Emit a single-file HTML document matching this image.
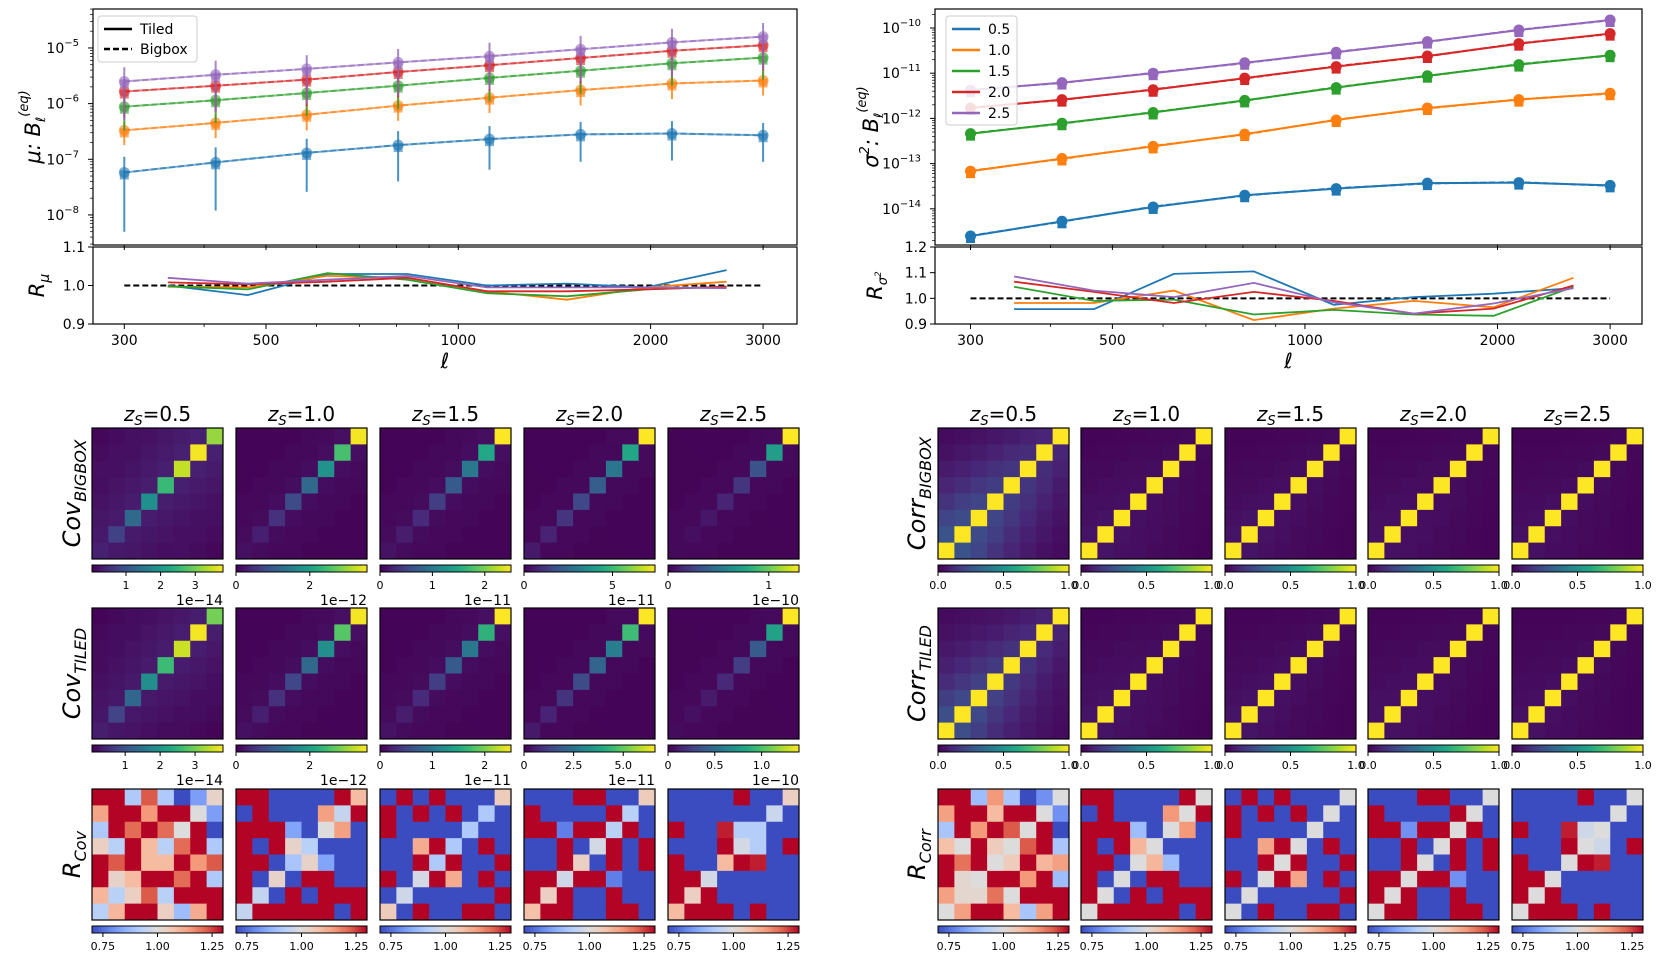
<!DOCTYPE html>
<html><head><meta charset="utf-8">
<style>
html,body{margin:0;padding:0;background:#fff;}
svg{display:block;}
text{font-family:"DejaVu Sans","Liberation Sans",sans-serif;fill:#000;}
</style></head>
<body>
<svg id="fig" width="1661" height="962" viewBox="0 0 1661 962" xmlns="http://www.w3.org/2000/svg"></svg>
<script>
// ---------- DATA ----------
const ellPoints = [300, 417, 579, 805, 1119, 1554, 2160, 3000];
const ellRatio = [351, 468, 624, 832, 1109, 1479, 1972, 2630];
const zLabels = ["0.5", "1.0", "1.5", "2.0", "2.5"];
const seriesColors = ["#1f77b4", "#ff7f0e", "#2ca02c", "#d62728", "#9467bd"];

const muZ05 = [5.8e-8, 8.8e-8, 1.3e-7, 1.8e-7, 2.3e-7, 2.8e-7, 2.9e-7, 2.7e-7];
const muZ10 = [3.3e-7, 4.5e-7, 6.3e-7, 9.2e-7, 1.28e-6, 1.75e-6, 2.3e-6, 2.6e-6];
const muZ15 = [8.8e-7, 1.15e-6, 1.55e-6, 2.1e-6, 2.9e-6, 3.9e-6, 5.3e-6, 6.7e-6];
const muZ20 = [1.65e-6, 2.1e-6, 2.7e-6, 3.7e-6, 4.9e-6, 6.6e-6, 8.9e-6, 1.12e-5];
const muZ25 = [2.5e-6, 3.3e-6, 4.2e-6, 5.5e-6, 7.1e-6, 9.5e-6, 1.26e-5, 1.6e-5];
const muErrZ05 = [5.3e-8, 7.6e-8, 1.04e-7, 1.4e-7, 1.65e-7, 1.9e-7, 1.95e-7, 1.8e-7];
const muErrZ10 = [1.5e-7, 2.1e-7, 3.0e-7, 4.3e-7, 6.0e-7, 8.2e-7, 1.1e-6, 1.2e-6];
const muErrZ15 = [5.5e-7, 7.0e-7, 9.5e-7, 1.3e-6, 1.8e-6, 2.4e-6, 3.2e-6, 4.0e-6];
const muErrZ20 = [1.1e-6, 1.4e-6, 1.8e-6, 2.4e-6, 3.2e-6, 4.3e-6, 5.8e-6, 7.3e-6];
const muErrZ25 = [2.0e-6, 2.6e-6, 3.2e-6, 4.1e-6, 5.3e-6, 7.0e-6, 9.5e-6, 1.2e-5];

const ratioMuZ05 = [1.00, 0.975, 1.03, 1.03, 1.00, 1.005, 0.995, 1.04];
const ratioMuZ10 = [0.997, 0.995, 1.025, 1.02, 0.985, 0.963, 0.995, 1.01];
const ratioMuZ15 = [0.998, 0.99, 1.032, 1.015, 0.98, 0.972, 0.99, 0.997];
const ratioMuZ20 = [1.008, 1.003, 1.01, 1.02, 0.985, 0.985, 0.99, 0.997];
const ratioMuZ25 = [1.02, 1.005, 1.015, 1.025, 0.995, 0.995, 0.995, 0.993];

const varZ05 = [2.5e-15, 5.3e-15, 1.1e-14, 2.0e-14, 2.8e-14, 3.7e-14, 3.8e-14, 3.3e-14];
const varZ10 = [6.8e-14, 1.3e-13, 2.4e-13, 4.5e-13, 9.2e-13, 1.7e-12, 2.6e-12, 3.6e-12];
const varZ15 = [4.6e-13, 7.8e-13, 1.35e-12, 2.5e-12, 4.8e-12, 8.8e-12, 1.55e-11, 2.5e-11];
const varZ20 = [1.7e-12, 2.6e-12, 4.3e-12, 7.8e-12, 1.4e-11, 2.4e-11, 4.5e-11, 7.5e-11];
const varZ25 = [4.2e-12, 6.2e-12, 1.0e-11, 1.7e-11, 2.9e-11, 5.0e-11, 9.0e-11, 1.5e-10];

const ratioVarZ05 = [0.958, 0.958, 1.095, 1.105, 0.975, 1.005, 1.018, 1.04];
const ratioVarZ10 = [0.982, 0.982, 1.03, 0.915, 0.96, 0.99, 0.965, 1.08];
const ratioVarZ15 = [1.045, 0.99, 0.995, 0.937, 0.955, 0.937, 0.932, 1.045];
const ratioVarZ20 = [1.065, 1.025, 0.982, 1.025, 0.99, 0.94, 0.96, 1.05];
const ratioVarZ25 = [1.085, 1.03, 1.005, 1.06, 0.985, 0.94, 0.98, 1.04];

const covBigDiag = [
  [0.35, 0.75, 1.3, 1.9, 2.55, 3.45, 3.75, 3.2],
  [0.15, 0.3, 0.5, 0.8, 1.2, 1.8, 2.5, 3.5],
  [0.12, 0.2, 0.3, 0.45, 0.7, 1.0, 1.5, 2.5],
  [0.5, 0.7, 1.1, 1.6, 2.2, 2.9, 4.4, 7.4],
  [0.03, 0.05, 0.08, 0.13, 0.2, 0.33, 0.72, 1.3]];
const covTiledDiag = [
  [0.35, 0.8, 1.3, 1.9, 2.6, 3.5, 3.75, 3.0],
  [0.15, 0.3, 0.5, 0.75, 1.2, 1.75, 2.6, 3.5],
  [0.12, 0.2, 0.3, 0.45, 0.7, 1.0, 1.6, 2.5],
  [0.45, 0.65, 1.0, 1.5, 2.1, 2.8, 4.5, 6.6],
  [0.04, 0.06, 0.1, 0.16, 0.25, 0.4, 0.8, 1.4]];
const covOffFrac = [
  [0, 0.07, 0.06, 0.05, 0.04, 0.04, 0.03, 0.02],
  [0, 0.03, 0.02, 0.02, 0.01, 0.01, 0.01, 0.01],
  [0, 0.03, 0.02, 0.02, 0.01, 0.01, 0.01, 0.01],
  [0, 0.02, 0.02, 0.01, 0.01, 0.01, 0.01, 0.01],
  [0, 0.02, 0.02, 0.01, 0.01, 0.01, 0.01, 0.01]];
const corrOffBig = [
  [1, 0.28, 0.25, 0.2, 0.16, 0.13, 0.1, 0.08],
  [1, 0.06, 0.05, 0.05, 0.04, 0.04, 0.03, 0.03],
  [1, 0.06, 0.05, 0.04, 0.04, 0.03, 0.03, 0.03],
  [1, 0.05, 0.05, 0.04, 0.04, 0.03, 0.03, 0.03],
  [1, 0.05, 0.04, 0.04, 0.03, 0.03, 0.03, 0.03]];
const corrOffTiled = [
  [1, 0.26, 0.22, 0.17, 0.14, 0.12, 0.1, 0.08],
  [1, 0.06, 0.05, 0.05, 0.04, 0.04, 0.03, 0.03],
  [1, 0.06, 0.05, 0.04, 0.04, 0.03, 0.03, 0.03],
  [1, 0.05, 0.05, 0.04, 0.04, 0.03, 0.03, 0.03],
  [1, 0.05, 0.04, 0.04, 0.03, 0.03, 0.03, 0.03]];
const covVmax = [[3.8, 3.55, 2.5, 7.4, 1.3], [3.8, 3.55, 2.5, 6.6, 1.4]];
const covVmin = [[0.02, 0, 0, 0, 0], [0.05, 0, 0, 0, 0]];
const covTicks = [[["1",1],["2",2],["3",3]], [["0",0],["2",2]], [["0",0],["1",1],["2",2]], [["0",0],["5",5]], [["0",0],["1",1]]];
const covTicksTiled = [[["1",1],["2",2],["3",3]], [["0",0],["2",2]], [["0",0],["1",1],["2",2]], [["0",0],["2.5",2.5],["5.0",5]], [["0",0],["0.5",0.5],["1.0",1]]];
const covExp = ["1e\u221214", "1e\u221212", "1e\u221211", "1e\u221211", "1e\u221210"];

const rCov = [
 [[1.3,1.3,0.91,1.23,0.91,0.7,0.82,1.03],[1.13,1.3,1.3,1.15,1.3,1.3,1.0,0.82],[0.91,1.3,1.21,1.3,1.21,1.0,1.3,0.7],[1.04,0.93,1.3,1.09,0.93,1.21,1.3,0.91],[1.3,1.23,1.3,1.09,1.09,1.3,1.15,1.23],[1.3,1.03,1.09,1.3,1.3,1.21,1.3,0.91],[1.1,0.93,1.04,1.23,0.93,1.3,1.3,1.3],[0.93,1.1,1.3,1.3,1.04,0.88,1.12,1.3]],
 [[1.3,1.3,0.7,0.7,0.7,0.7,1.3,1.09],[0.7,1.3,0.7,0.7,0.7,1.14,0.95,1.3],[1.3,1.3,1.3,0.83,0.7,1.0,1.14,0.7],[1.3,0.7,1.3,1.03,0.93,0.7,0.7,0.7],[1.3,1.3,0.7,0.9,1.03,0.83,0.7,0.7],[1.3,0.7,1.03,0.7,1.3,1.3,0.7,0.7],[1.3,0.95,0.7,1.3,0.7,1.3,1.3,1.3],[0.95,1.3,1.3,1.3,1.3,1.3,0.7,1.3]],
 [[0.7,1.3,0.7,1.3,0.7,0.7,0.7,1.05],[1.3,0.7,1.3,0.7,1.3,0.7,0.91,0.7],[1.3,0.7,0.7,0.7,0.7,0.91,0.7,0.7],[0.7,0.7,1.12,1.3,0.91,0.7,1.3,0.7],[0.7,0.7,1.3,0.91,1.3,0.7,0.7,1.3],[1.3,0.7,0.98,1.3,1.12,0.7,1.3,0.7],[0.7,0.97,0.7,0.7,0.7,0.7,0.7,1.3],[1.05,0.7,1.3,0.7,0.7,1.3,1.3,0.7]],
 [[0.7,0.7,0.7,1.3,1.3,0.7,0.7,1.05],[1.3,0.7,0.7,0.7,0.7,1.3,0.93,0.7],[1.3,1.3,0.77,1.3,1.3,0.93,1.3,0.7],[0.7,0.7,1.3,0.7,0.98,1.3,0.7,1.3],[0.7,0.7,1.3,1.04,0.7,1.3,0.7,1.3],[1.3,1.3,0.97,1.3,1.3,0.77,0.7,0.7],[1.3,1.04,1.3,0.7,0.7,1.3,0.7,0.7],[1.08,1.3,1.3,0.7,0.7,1.3,1.3,0.7]],
 [[0.7,0.7,0.7,0.7,1.3,0.7,0.7,1.04],[0.7,0.7,0.7,0.7,0.7,0.7,0.96,0.7],[1.3,0.7,0.7,1.28,0.92,0.92,0.7,0.7],[0.7,0.7,0.7,1.3,0.98,0.92,0.7,1.3],[1.3,0.7,0.7,1.09,1.3,1.28,0.7,0.7],[1.3,1.3,0.98,0.7,0.7,0.7,0.7,0.7],[1.3,1.04,1.3,0.7,0.7,0.7,0.7,0.7],[1.09,1.3,1.3,1.3,0.7,1.3,0.7,0.7]]];
const rCorr = [
 [[1.3,1.3,0.88,1.15,0.9,0.7,0.8,1.0],[1.14,1.3,1.3,1.09,1.3,1.3,1.0,0.8],[0.9,1.3,1.15,1.3,1.23,1.0,1.3,0.7],[1.08,1.0,1.3,1.05,1.0,1.23,1.3,0.9],[1.3,1.2,1.3,1.0,1.05,1.3,1.1,1.14],[1.3,1.02,1.0,1.3,1.3,1.15,1.3,0.88],[1.14,1.02,1.02,1.2,1.0,1.3,1.3,1.3],[1.0,1.14,1.3,1.3,1.09,0.9,1.14,1.3]],
 [[1.3,1.3,0.7,0.7,0.7,0.7,1.3,1.0],[0.7,1.3,0.7,0.7,0.7,1.15,1.0,1.3],[1.3,1.3,1.3,0.88,0.7,1.0,1.15,0.7],[1.3,0.7,1.3,1.1,1.0,0.7,0.7,0.7],[1.3,1.3,0.7,1.0,1.1,0.88,0.7,0.7],[1.3,0.7,1.0,0.7,1.3,1.3,0.7,0.7],[1.3,1.0,0.7,1.3,0.7,1.3,1.3,1.3],[1.0,1.3,1.3,1.3,1.3,1.3,0.7,1.3]],
 [[0.7,1.3,0.7,1.3,0.7,0.7,0.7,1.0],[1.3,0.7,1.3,0.7,1.3,0.7,1.0,0.7],[1.3,0.7,0.7,0.7,0.7,1.0,0.7,0.7],[0.7,0.7,1.13,1.3,1.0,0.7,1.3,0.7],[0.7,0.7,1.3,1.0,1.3,0.7,0.7,1.3],[1.3,0.7,1.0,1.3,1.13,0.7,1.3,0.7],[0.7,1.0,0.7,0.7,0.7,0.7,0.7,1.3],[1.0,0.7,1.3,0.7,0.7,1.3,1.3,0.7]],
 [[0.7,0.7,0.7,1.3,1.3,0.7,0.7,1.0],[1.3,0.7,0.7,0.7,0.7,1.3,1.0,0.7],[1.3,1.3,0.8,1.3,1.3,1.0,1.3,0.7],[0.7,0.7,1.3,0.7,1.0,1.3,0.7,1.3],[0.7,0.7,1.3,1.0,0.7,1.3,0.7,1.3],[1.3,1.3,1.0,1.3,1.3,0.8,0.7,0.7],[1.3,1.0,1.3,0.7,0.7,1.3,0.7,0.7],[1.0,1.3,1.3,0.7,0.7,1.3,1.3,0.7]],
 [[0.7,0.7,0.7,0.7,1.3,0.7,0.7,1.0],[0.7,0.7,0.7,0.7,0.7,0.7,1.0,0.7],[1.3,0.7,0.7,1.28,0.97,1.0,0.7,0.7],[0.7,0.7,0.7,1.3,1.0,0.97,0.7,1.3],[1.3,0.7,0.7,1.0,1.3,1.28,0.7,0.7],[1.3,1.3,1.0,0.7,0.7,0.7,0.7,0.7],[1.3,1.0,1.3,0.7,0.7,0.7,0.7,0.7],[1.0,1.3,1.3,1.3,0.7,1.3,0.7,0.7]]];

// ---------- HELPERS ----------
const NS = "http://www.w3.org/2000/svg";
const svg = document.getElementById('fig');
function mk(tag, attrs, parent) {
  const e = document.createElementNS(NS, tag);
  for (const k in attrs) e.setAttribute(k, attrs[k]);
  (parent || svg).appendChild(e);
  return e;
}
function txt(x, y, s, size, anchor, parent, extra) {
  const t = mk('text', Object.assign({x: x, y: y, 'font-size': size, 'text-anchor': anchor || 'middle'}, extra || {}), parent);
  t.textContent = s;
  return t;
}
function lerpHex(stops, t) {
  t = Math.max(0, Math.min(1, t));
  for (let i = 1; i < stops.length; i++) {
    if (t <= stops[i][0]) {
      const a = stops[i - 1], b = stops[i];
      const f = (t - a[0]) / (b[0] - a[0]);
      const ca = a[1], cb = b[1];
      const c = [0, 1, 2].map(k => Math.round(parseInt(ca.substr(1 + 2 * k, 2), 16) * (1 - f) + parseInt(cb.substr(1 + 2 * k, 2), 16) * f));
      return 'rgb(' + c.join(',') + ')';
    }
  }
  return stops[stops.length - 1][1];
}
const viridis = [[0,'#440154'],[0.1,'#482475'],[0.2,'#414487'],[0.3,'#355f8d'],[0.4,'#2a788e'],[0.5,'#21918c'],[0.6,'#22a884'],[0.7,'#44bf70'],[0.8,'#7ad151'],[0.9,'#bddf26'],[1,'#fde725']];
const coolwarm = [[0,'#3b4cc0'],[0.125,'#6282ea'],[0.25,'#8db0fe'],[0.375,'#b8d0f9'],[0.5,'#dddcdc'],[0.625,'#f5c4ac'],[0.75,'#f49a7b'],[0.875,'#de604d'],[1,'#b40426']];

function logScale(d0, d1, p0, p1) { const a = Math.log10(d0), b = Math.log10(d1); return v => p0 + (Math.log10(v) - a) / (b - a) * (p1 - p0); }
function linScale(d0, d1, p0, p1) { return v => p0 + (v - d0) / (d1 - d0) * (p1 - p0); }
function sup(x, y, base, exp, parent, name) {
  const t = mk('text', {x: x, y: y, 'font-size': 14, 'text-anchor': 'end'}, parent);
  
  
  const s1 = mk('tspan', {}, t); s1.textContent = base;
  const s2 = mk('tspan', {dy: -7, 'font-size': 10}, t); s2.textContent = exp;
}
function polyline(xs, ys, sx, sy, attrs, parent) {
  const pts = xs.map((x, i) => sx(x).toFixed(1) + ',' + sy(ys[i]).toFixed(1)).join(' ');
  return mk('polyline', Object.assign({points: pts, fill: 'none'}, attrs), parent);
}
function xAxisTicks(g, sx, yb, labels) {
  const minors = [400, 600, 700, 800, 900];
  [300, 500, 1000, 2000, 3000].forEach(v => {
    mk('line', {x1: sx(v), x2: sx(v), y1: yb, y2: yb + 5, stroke: '#000', 'stroke-width': 1}, g);
    if (labels) { const t = txt(sx(v), yb + 21, String(v), 14, 'middle', g);   }
  });
  minors.forEach(v => mk('line', {x1: sx(v), x2: sx(v), y1: yb, y2: yb + 3, stroke: '#000', 'stroke-width': 0.8}, g));
}
function yLogTicks(g, sy, x0, e0, e1, lo, hi) {
  for (let e = e0; e <= e1; e++) {
    for (let m = 1; m < 10; m++) {
      const v = m * Math.pow(10, e);
      if (v < lo || v > hi) continue;
      const y = sy(v);
      mk('line', {x1: x0 - (m === 1 ? 5 : 3), x2: x0, y1: y, y2: y, stroke: '#000', 'stroke-width': m === 1 ? 1 : 0.7}, g);
      if (m === 1) sup(x0 - 14, y + 5, '10', '\u2212' + (-e), g, 'y-tick-label');
    }
  }
}

function topPlot(opts) {
  const g = mk('g', {});
  
  
  const {x0, x1, yt, yb, rt, rb} = opts;
  const sx = logScale(opts.xmin, opts.xmax, x0, x1);
  const sy = logScale(opts.ymin, opts.ymax, yb, yt);
  const sr = linScale(opts.rmin, opts.rmax, rb, rt);
  const plotG = mk('g', {}, g);
  
  
  const cp = mk('clipPath', {id: opts.name + '-clip'});
  mk('rect', {x: x0, y: yt, width: x1 - x0, height: yb - yt}, cp);
  const inner = mk('g', {'clip-path': 'url(#' + opts.name + '-clip)'}, plotG);
  opts.series.forEach((s, i) => {
    const sg = mk('g', {}, inner);
    
    
    const c = seriesColors[i];
    if (opts.err) {
      s.forEach((v, k) => {
        const lo = Math.max(v - opts.err[i][k], opts.ymin * 1.01);
        const el = mk('line', {x1: sx(ellPoints[k]), x2: sx(ellPoints[k]), y1: sy(lo), y2: sy(v + opts.err[i][k]), stroke: c, 'stroke-width': 2, opacity: 0.8}, sg);
        
        
      });
    }
    const op = opts.err ? 0.6 : 1;
    const l1 = polyline(ellPoints, s, sx, sy, {stroke: c, 'stroke-width': 2, opacity: op}, sg);
    
    
    const l2 = polyline(ellPoints, s.map((v, k) => v * (opts.err ? 1 : (1 + 0.02 * ((k % 2) ? -1 : 1)))), sx, sy, {stroke: c, 'stroke-width': 2, 'stroke-dasharray': '6,3', opacity: op}, sg);
    
    
    s.forEach((v, k) => {
      const sq = mk('rect', {x: sx(ellPoints[k]) - 4.5, y: sy(v) - 2, width: 9, height: 9, fill: c, opacity: op}, sg);
      
      
      const ci = mk('circle', {cx: sx(ellPoints[k]), cy: sy(v), r: 5.5, fill: c, opacity: op}, sg);
      
      
    });
  });
  mk('rect', {x: x0, y: yt, width: x1 - x0, height: yb - yt, fill: 'none', stroke: '#000', 'stroke-width': 1.2}, plotG);
  yLogTicks(plotG, sy, x0, opts.e0, opts.e1, opts.ymin, opts.ymax);
  xAxisTicks(plotG, sx, yb, false);
  const lg = mk('g', {}, g);
  
  
  mk('rect', {x: opts.leg.x, y: opts.leg.y, width: opts.leg.w, height: opts.leg.h, rx: 3, fill: '#fff', 'fill-opacity': 0.85, stroke: '#ccc'}, lg);
  opts.leg.items.forEach((it, i) => {
    const eg = mk('g', {}, lg);
    
    
    const yy = opts.leg.y + 13 + i * opts.leg.dy;
    mk('line', {x1: opts.leg.x + 6, x2: opts.leg.x + 34, y1: yy, y2: yy, stroke: it.c, 'stroke-width': 2.5, 'stroke-dasharray': it.dash || 'none'}, eg);
    txt(opts.leg.x + 42, yy + 5, it.t, 14, 'start', eg);
  });
  const yl = mk('text', {transform: 'translate(' + opts.ylx + ',' + ((yt + yb) / 2) + ') rotate(-90)', 'font-size': 21, 'text-anchor': 'middle', 'font-style': 'italic'}, g);
  
  
  opts.ylabel(yl);
  const rg = mk('g', {}, g);
  
  
  const dl = mk('line', {x1: sx(300), x2: sx(3000), y1: sr(1), y2: sr(1), stroke: '#000', 'stroke-width': 2, 'stroke-dasharray': '6,3'}, rg);
  
  
  opts.ratios.forEach((r, i) => {
    const l = polyline(ellRatio, r, sx, sr, {stroke: seriesColors[i], 'stroke-width': 1.8}, rg);
    
    
  });
  mk('rect', {x: x0, y: rt, width: x1 - x0, height: rb - rt, fill: 'none', stroke: '#000', 'stroke-width': 1.2}, rg);
  opts.rticks.forEach(v => {
    mk('line', {x1: x0 - 5, x2: x0, y1: sr(v), y2: sr(v), stroke: '#000'}, rg);
    const t = txt(x0 - 8, sr(v) + 5, v.toFixed(1), 14, 'end', rg);
    
    
  });
  xAxisTicks(rg, sx, rb, true);
  const rl = mk('text', {transform: 'translate(' + (opts.ylx + 4) + ',' + ((rt + rb) / 2) + ') rotate(-90)', 'font-size': 21, 'text-anchor': 'middle', 'font-style': 'italic'}, g);
  
  
  opts.rlabel(rl);
  const xl = txt((x0 + x1) / 2, 368, '\u2113', 21, 'middle', g, {'font-style': 'italic'});
  
  
}
function addSpans(t, parts) { parts.forEach(p => { const s = mk('tspan', p[1] || {}, t); s.textContent = p[0]; }); }

topPlot({name: 'mean-plot', x0: 93, x1: 797, yt: 9, yb: 245, rt: 247, rb: 324,
  xmin: 268, xmax: 3390, ymin: Math.pow(10, -8.54), ymax: Math.pow(10, -4.30), e0: -9, e1: -5,
  rmin: 0.9, rmax: 1.1, rticks: [0.9, 1.0, 1.1],
  series: [muZ05, muZ10, muZ15, muZ20, muZ25], err: [muErrZ05, muErrZ10, muErrZ15, muErrZ20, muErrZ25],
  ratios: [ratioMuZ05, ratioMuZ10, ratioMuZ15, ratioMuZ20, ratioMuZ25],
  leg: {x: 98, y: 16, w: 99, h: 46, dy: 20, items: [{t: 'Tiled', c: '#000'}, {t: 'Bigbox', c: '#000', dash: '6,3'}]},
  ylx: 40,
  ylabel: t => addSpans(t, [['\u03bc: B'], ['\u2113', {'font-size': 13, dy: 5}], ['(eq)', {'font-size': 13, dy: -17}]]),
  rlabel: t => addSpans(t, [['R'], ['\u03bc', {'font-size': 14, dy: 5}]])
});
topPlot({name: 'variance-plot', x0: 935, x1: 1642, yt: 9, yb: 245, rt: 247, rb: 324,
  xmin: 264, xmax: 3365, ymin: Math.pow(10, -14.8), ymax: Math.pow(10, -9.58), e0: -15, e1: -10,
  rmin: 0.9, rmax: 1.2, rticks: [0.9, 1.0, 1.1, 1.2],
  series: [varZ05, varZ10, varZ15, varZ20, varZ25], err: null,
  ratios: [ratioVarZ05, ratioVarZ10, ratioVarZ15, ratioVarZ20, ratioVarZ25],
  leg: {x: 946, y: 16, w: 71, h: 109, dy: 21, items: zLabels.map((z, i) => ({t: z, c: seriesColors[i]}))},
  ylx: 878,
  ylabel: t => addSpans(t, [['\u03c3'], ['2', {'font-size': 13, dy: -9}], [': B', {dy: 9}], ['\u2113', {'font-size': 13, dy: 5}], ['(eq)', {'font-size': 13, dy: -17}]]),
  rlabel: t => addSpans(t, [['R'], ['\u03c3', {'font-size': 13, dy: 5}], ['2', {'font-size': 9, dy: -6}]])
});

// ---------- HEATMAPS ----------
const leftX = [92, 236, 380, 524, 668];
const rightX = [938, 1081, 1225, 1368, 1512];
const rowY = [428, 608, 789];
const HS = 131;

function heatmap(x, y, mat, cmap, vmin, vmax, name) {
  const g = mk('g', {});
  
  
  const n = mat.length, cs = HS / n;
  mat.forEach((row, r) => row.forEach((v, c) => {
    const cell = mk('rect', {x: (x + c * cs).toFixed(2), y: (y + r * cs).toFixed(2), width: (cs + 0.4).toFixed(2), height: (cs + 0.4).toFixed(2), fill: lerpHex(cmap, (v - vmin) / (vmax - vmin))}, g);
    
    
  }));
  mk('rect', {x: x, y: y, width: HS, height: HS, fill: 'none', stroke: '#000', 'stroke-width': 1.2}, g);
}
function colorbar(x, y, cmap, vmin, vmax, ticks, exp, name) {
  const g = mk('g', {});
  
  
  const gid = 'grad' + Math.round(x) + '_' + Math.round(y);
  const lg = mk('linearGradient', {id: gid, x1: 0, x2: 1, y1: 0, y2: 0}, svg);
  cmap.forEach(s => mk('stop', {offset: s[0], 'stop-color': s[1]}, lg));
  mk('rect', {x: x, y: y, width: HS, height: 7, fill: 'url(#' + gid + ')', stroke: '#000', 'stroke-width': 1}, g);
  ticks.forEach(t => {
    const tx = x + (t[1] - vmin) / (vmax - vmin) * HS;
    mk('line', {x1: tx, x2: tx, y1: y + 7, y2: y + 11, stroke: '#000'}, g);
    const lt = txt(tx, y + 24, t[0], 11, 'middle', g);
    
    
  });
  if (exp) { const e = txt(x + HS, y + 40, exp, 14, 'end', g);   }
}
function buildCov(diag, off, vmax) {
  const m = [];
  for (let r = 0; r < 8; r++) {
    const row = [];
    for (let c = 0; c < 8; c++) {
      const i = 7 - r, d = Math.abs(i - c);
      row.push(d === 0 ? diag[c] : off[d] * vmax + 0.12 * Math.sqrt(diag[c] * diag[i]) * off[d] * 3);
    }
    m.push(row);
  }
  return m;
}
function buildCorr(off) {
  const m = [];
  for (let r = 0; r < 8; r++) {
    const row = [];
    for (let c = 0; c < 8; c++) { const i = 7 - r, d = Math.abs(i - c); row.push(d === 0 ? 1 : off[d] * (1 - 0.09 * Math.max(i, c))); }
    m.push(row);
  }
  return m;
}
const covTickSets = [covTicks, covTicksTiled];
zLabels.forEach((z, k) => {
  [leftX[k], rightX[k]].forEach((x) => {
    const t = mk('text', {x: x + HS / 2, y: 421, 'font-size': 20, 'text-anchor': 'middle'});
    
    
    addSpans(t, [['z', {'font-style': 'italic'}], ['S', {'font-size': 13, dy: 4, 'font-style': 'italic'}], ['=' + z, {dy: -4}]]);
  });
  [covBigDiag, covTiledDiag].forEach((diagSet, r) => {
    const vmax = covVmax[r][k], vmin = covVmin[r][k];
    heatmap(leftX[k], rowY[r], buildCov(diagSet[k], covOffFrac[k], vmax), viridis, vmin, vmax, (r ? 'cov-tiled-' : 'cov-bigbox-') + z);
    colorbar(leftX[k], rowY[r] + HS + 6, viridis, vmin, vmax, covTickSets[r][k], covExp[k], 'cov-colorbar');
    heatmap(rightX[k], rowY[r], buildCorr((r ? corrOffTiled : corrOffBig)[k]), viridis, 0, 1, (r ? 'corr-tiled-' : 'corr-bigbox-') + z);
    colorbar(rightX[k], rowY[r] + HS + 6, viridis, 0, 1, [["0.0",0],["0.5",0.5],["1.0",1]], null, 'corr-colorbar');
  });
  heatmap(leftX[k], rowY[2], rCov[k], coolwarm, 0.7, 1.3, 'ratio-cov-' + z);
  colorbar(leftX[k], rowY[2] + HS + 6, coolwarm, 0.7, 1.3, [["0.75",0.75],["1.00",1],["1.25",1.25]], null, 'ratio-colorbar');
  heatmap(rightX[k], rowY[2], rCorr[k], coolwarm, 0.7, 1.3, 'ratio-corr-' + z);
  colorbar(rightX[k], rowY[2] + HS + 6, coolwarm, 0.7, 1.3, [["0.75",0.75],["1.00",1],["1.25",1.25]], null, 'ratio-colorbar');
});
[['Cov', 'BIGBOX', 72, 0], ['Cov', 'TILED', 72, 1], ['R', 'Cov', 72, 2], ['Corr', 'BIGBOX', 917, 0], ['Corr', 'TILED', 917, 1], ['R', 'Corr', 917, 2]].forEach(l => {
  const cy = rowY[l[3]] + HS / 2;
  const t = mk('text', {transform: 'translate(' + (l[2] + 8) + ',' + cy + ') rotate(-90)', 'font-size': 24, 'text-anchor': 'middle', 'font-style': 'italic'});
  
  
  addSpans(t, [[l[0]], [l[1], {'font-size': 16, dy: 6}]]);
});
</script>
</body></html>
